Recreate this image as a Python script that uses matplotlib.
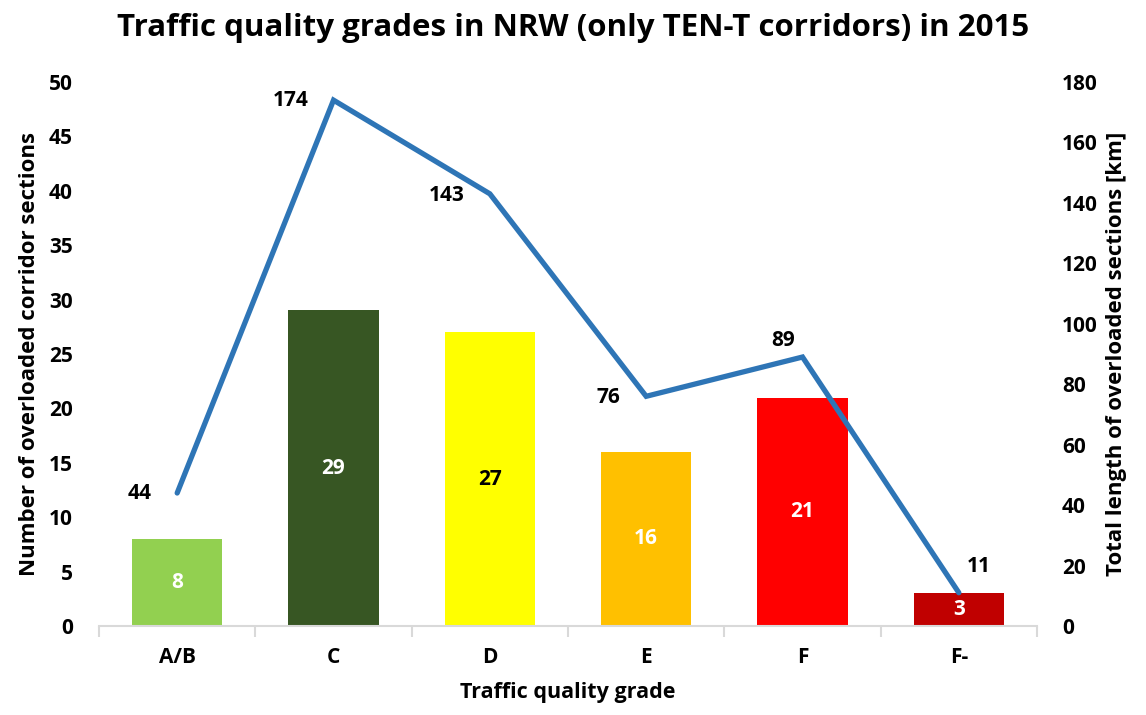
import matplotlib
matplotlib.use("Agg")
import matplotlib.pyplot as plt
import numpy as np

plt.rcParams['font.family'] = ['Open Sans', 'DejaVu Sans']
plt.rcParams['font.weight'] = 'bold'

categories = ["A/B", "C", "D", "E", "F", "F-"]
sections = [8, 29, 27, 16, 21, 3]
length_km = [44, 174, 143, 76, 89, 11]
bar_colors = ["#92D050", "#375623", "#FFFF00", "#FFC000", "#FF0000", "#C00000"]
bar_text_colors = ["white", "white", "black", "white", "white", "white"]
line_label_offsets = [(-27, 0), (-31, 0), (-31, -1), (-27, -1), (-14, 12), (14, 19)]

fig = plt.figure(figsize=(11.46, 7.15), dpi=100)
ax = fig.add_axes([0.0864, 0.1245, 0.8185, 0.7608])
ax2 = ax.twinx()

x = np.arange(len(categories))
ax.bar(x, sections, width=0.576, color=bar_colors, zorder=2)
for xi, v, tc in zip(x, sections, bar_text_colors):
    ax.text(xi, v / 2, str(v), ha='center', va='center', color=tc,
            fontsize=15, fontweight='bold')

ax.set_xlim(-0.5, len(categories) - 0.5)
ax.set_ylim(0, 50)
ax.set_yticks(np.arange(0, 51, 5))
ax2.set_ylim(0, 180)
ax2.set_yticks(np.arange(0, 181, 20))

ax2.plot(x, length_km, color="#2E75B6", lw=3.8, solid_capstyle='round',
         solid_joinstyle='miter', zorder=3)
for xi, v, off in zip(x, length_km, line_label_offsets):
    ax2.annotate(str(v), (xi, v), xytext=off, textcoords='offset points',
                 ha='center', va='center', fontsize=15, fontweight='bold')

for a in (ax, ax2):
    for s in a.spines.values():
        s.set_visible(False)
ax.spines['bottom'].set_visible(True)
ax.spines['bottom'].set_color('#D9D9D9')
ax.spines['bottom'].set_linewidth(1.5)

ax.set_xticks(x)
ax.set_xticklabels(categories)
ax.set_xticks(np.arange(-0.5, len(categories), 1), minor=True)
ax.tick_params(axis='x', which='major', length=0, pad=15, labelsize=15)
ax.tick_params(axis='x', which='minor', length=8, width=1.5, color='#D9D9D9')
ax.tick_params(axis='y', length=0, labelsize=15, pad=19)
ax2.tick_params(axis='y', length=0, labelsize=15, pad=18)
for lab in ax.get_xticklabels() + ax.get_yticklabels() + ax2.get_yticklabels():
    lab.set_fontweight('bold')

ax.set_xlabel("Traffic quality grade", fontsize=15.5, fontweight='bold', labelpad=10)
ax.set_ylabel("Number of overloaded corridor sections", fontsize=16,
              fontweight='bold', labelpad=6)
ax2.set_ylabel("Total length of overloaded sections [km]", fontsize=16,
               fontweight='bold', labelpad=6)
fig.suptitle("Traffic quality grades in NRW (only TEN-T corridors) in 2015",
             fontsize=22.5, fontweight='bold', y=0.982)

fig.savefig("out.png", dpi=100)
